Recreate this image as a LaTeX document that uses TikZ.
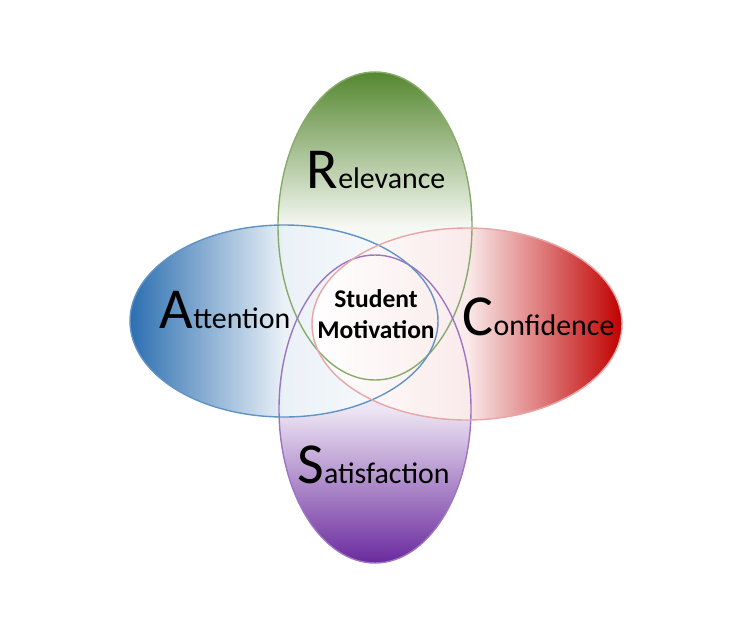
\documentclass[tikz,border=0pt]{standalone}
\usepackage{fontspec}
\setmainfont{Carlito}
\usepackage{tikz}
\definecolor{relgreen}{HTML}{55872F}
\definecolor{attblue}{HTML}{2C6FB0}
\definecolor{confred}{HTML}{C00000}
\definecolor{satpurple}{HTML}{6A2A9E}
\newcommand{\bigfirst}[1]{{\fontsize{33}{33}\selectfont #1}}

\begin{document}
\begin{tikzpicture}[
    label/.style={anchor=base, inner sep=0pt, font=\fontsize{17}{17}\selectfont},
    core/.style={align=center, inner sep=0pt,
      font=\bfseries\fontsize{14.5}{17.5}\selectfont},
    rim/.style={line width=0.8pt},
]
\useasboundingbox (0,0) rectangle (15.08,12.4);
\coordinate (relc)  at (7.50,7.88);
\coordinate (satc)  at (7.50,4.22);
\coordinate (attc)  at (5.68,5.98);
\coordinate (confc) at (9.34,5.92);
% fills, back to front
\fill[top color=relgreen, bottom color=white, middle color=relgreen!6]
    (relc) ellipse [x radius=1.94, y radius=3.08];
\fill[bottom color=satpurple, top color=white, middle color=satpurple!12]
    (satc) ellipse [x radius=1.92, y radius=3.08];
\fill[left color=attblue, right color=white, middle color=attblue!10]
    (attc) ellipse [x radius=3.08, y radius=1.92];
\fill[right color=confred, left color=white, middle color=confred!8]
    (confc) ellipse [x radius=3.10, y radius=1.92];
% outlines on top
\draw[rim, relgreen!70]    (relc)  ellipse [x radius=1.94, y radius=3.08];
\draw[rim, satpurple!65]   (satc)  ellipse [x radius=1.92, y radius=3.08];
\draw[rim, attblue!75]     (attc)  ellipse [x radius=3.08, y radius=1.92];
\draw[rim, confred!35]     (confc) ellipse [x radius=3.10, y radius=1.92];

\node[label] (relevance)    at (7.52,8.64) {\bigfirst{R}elevance};
\node[label] (attention)    at (4.50,5.84) {\bigfirst{A}ttention};
\node[label] (confidence)   at (10.77,5.70) {\bigfirst{C}onfidence};
\node[label] (satisfaction) at (7.47,2.74) {\bigfirst{S}atisfaction};
\node[core]  (motivation)   at (7.52,6.12) {Student\\Motivation};
\end{tikzpicture}
\end{document}
